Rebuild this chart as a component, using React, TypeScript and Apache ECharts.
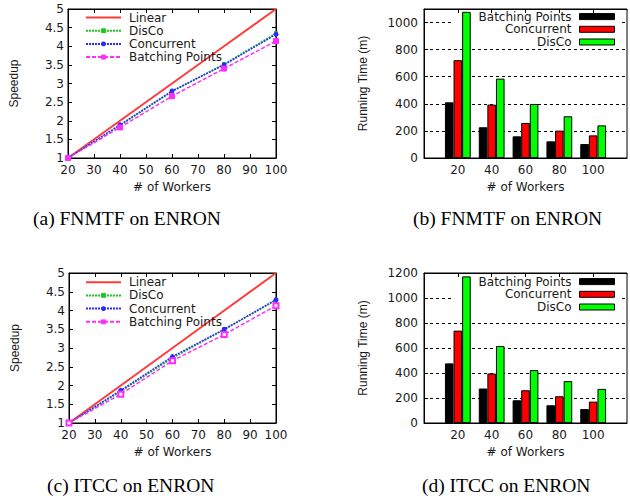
import React, { useEffect, useRef } from 'react';
import * as echarts from 'echarts';

// Shared categories
const workers = [20, 40, 60, 80, 100];
const workerLabels = ['20', '40', '60', '80', '100'];

// (a) FNMTF on ENRON — speedup
const fnmtfLinear = [1, 2, 3, 4, 5];
const fnmtfDisCo = [1, 1.87, 2.78, 3.52, 4.35];
const fnmtfConcurrent = [1, 1.89, 2.8, 3.5, 4.32];
const fnmtfBatching = [1, 1.82, 2.66, 3.4, 4.14];

// (b) FNMTF on ENRON — running time (m)
const fnmtfTimeBatching = [411, 227, 160, 123, 103];
const fnmtfTimeConcurrent = [722, 394, 259, 202, 167];
const fnmtfTimeDisCo = [1079, 586, 399, 308, 241];

// (c) ITCC on ENRON — speedup
const itccLinear = [1, 2, 3, 4, 5];
const itccDisCo = [1, 1.84, 2.73, 3.49, 4.27];
const itccConcurrent = [1, 1.87, 2.77, 3.5, 4.29];
const itccBatching = [1, 1.77, 2.66, 3.36, 4.13];

// (d) ITCC on ENRON — running time (m)
const itccTimeBatching = [477, 276, 182, 142, 112];
const itccTimeConcurrent = [739, 396, 262, 214, 171];
const itccTimeDisCo = [1173, 616, 423, 335, 273];

const captions = ['(a) FNMTF on ENRON', '(b) FNMTF on ENRON', '(c) ITCC on ENRON', '(d) ITCC on ENRON'];

const C_LINEAR = '#ff3b3b';
const C_DISCO = '#1ec81e';
const C_CONC = '#2a2aff';
const C_BATCH = '#ff2cff';

const txt = { fontFamily: 'DejaVu Sans', fontSize: 12, color: '#1a1a1a' };
const nameTxt = { fontFamily: 'Liberation Sans', fontSize: 12, color: '#1a1a1a' };

const pts = (arr: number[]) => workers.map((w, i) => [w, arr[i]]);
const pad = (arr: number[]) => [null, ...arr, null];
const barCats = ['', ...workerLabels, ''];

function lineX(grid: number) {
  return [
    {
      type: 'value', gridIndex: grid, min: 20, max: 100, interval: 10, position: 'bottom',
      axisLine: { lineStyle: { color: '#000', width: 1 } },
      axisTick: { inside: true, length: 4, lineStyle: { color: '#000' } },
      axisLabel: { ...txt, margin: 6 },
      splitLine: { show: false },
      name: '# of Workers', nameLocation: 'middle', nameGap: 23, nameTextStyle: { ...txt },
    },
    {
      type: 'value', gridIndex: grid, min: 20, max: 100, interval: 10, position: 'top',
      axisLine: { lineStyle: { color: '#000', width: 1 } },
      axisTick: { inside: true, length: 4, lineStyle: { color: '#000' } },
      axisLabel: { show: false }, splitLine: { show: false },
    },
  ];
}
function lineY(grid: number) {
  return [
    {
      type: 'value', gridIndex: grid, min: 1, max: 5, interval: 0.5, position: 'left',
      axisLine: { show: true, lineStyle: { color: '#000', width: 1 } },
      axisTick: { show: true, inside: true, length: 4, lineStyle: { color: '#000' } },
      axisLabel: { ...txt, margin: 4 },
      splitLine: { show: false },
      name: 'Speedup', nameLocation: 'middle', nameGap: 48, nameRotate: 90, nameTextStyle: { ...nameTxt, fontSize: 12 },
    },
    {
      type: 'value', gridIndex: grid, min: 1, max: 5, interval: 0.5, position: 'right',
      axisLine: { show: true, lineStyle: { color: '#000', width: 1 } },
      axisTick: { show: true, inside: true, length: 4, lineStyle: { color: '#000' } },
      axisLabel: { show: false }, splitLine: { show: false },
    },
  ];
}
function barX(grid: number) {
  return [
    {
      type: 'category', gridIndex: grid, data: barCats, boundaryGap: false, position: 'bottom',
      axisLine: { lineStyle: { color: '#000', width: 1 } },
      axisTick: { show: false },
      axisLabel: { ...txt, margin: 6, interval: 0 },
      name: '# of Workers', nameLocation: 'middle', nameGap: 23, nameTextStyle: { ...txt },
    },
    {
      type: 'category', gridIndex: grid, data: barCats, boundaryGap: false, position: 'top',
      axisLine: { lineStyle: { color: '#000', width: 1 } },
      axisTick: { inside: true, length: 4, lineStyle: { color: '#000' }, interval: (_i: number, v: string) => v !== '' },
      axisLabel: { show: false },
    },
  ];
}
function barY(grid: number, max: number, showMax: boolean) {
  return {
    type: 'value', gridIndex: grid, min: 0, max, interval: 200, position: 'left',
    axisLine: { show: true, lineStyle: { color: '#000', width: 1 } },
    axisTick: { show: true, inside: true, length: 4, lineStyle: { color: '#000' } },
    axisLabel: { ...txt, margin: 6, showMaxLabel: showMax, formatter: (v: number) => String(v) },
    splitLine: { show: true, lineStyle: { color: '#000', width: 1, type: [3, 3] } },
    name: 'Running Time (m)', nameLocation: 'middle', nameGap: 55, nameRotate: 90, nameTextStyle: { ...nameTxt },
  };
}

function lineSeries(xi: number, yi: number, lin: number[], disco: number[], conc: number[], batch: number[], emptyBatch: boolean) {
  return [
    {
      type: 'line', name: 'Linear', xAxisIndex: xi, yAxisIndex: yi, data: pts(lin),
      symbol: 'none', lineStyle: { color: C_LINEAR, width: 2 }, itemStyle: { color: C_LINEAR },
    },
    {
      type: 'line', name: 'DisCo', xAxisIndex: xi, yAxisIndex: yi, data: pts(disco),
      symbol: 'rect', symbolSize: 4, lineStyle: { color: C_DISCO, width: 1.5, type: [2, 1] }, itemStyle: { color: C_DISCO },
    },
    {
      type: 'line', name: 'Concurrent', xAxisIndex: xi, yAxisIndex: yi, data: pts(conc),
      symbol: 'circle', symbolSize: 5, lineStyle: { color: C_CONC, width: 1.5, type: [2, 1] }, itemStyle: { color: C_CONC },
    },
    {
      type: 'line', name: 'Batching Points', xAxisIndex: xi, yAxisIndex: yi, data: pts(batch),
      symbol: emptyBatch ? 'emptyRect' : 'rect', symbolSize: 5, lineStyle: { color: C_BATCH, width: 1.5, type: [4, 2] },
      itemStyle: { color: C_BATCH, borderColor: C_BATCH },
    },
  ];
}

function barSeries(xi: number, yi: number, b: number[], c: number[], d: number[]) {
  const common = { type: 'bar', xAxisIndex: xi, yAxisIndex: yi, barWidth: 8.6, barGap: '0%' };
  return [
    { ...common, name: 'Batching Points', data: pad(b), itemStyle: { color: '#000', borderColor: '#000', borderWidth: 1 } },
    { ...common, name: 'Concurrent', data: pad(c), itemStyle: { color: '#ff0000', borderColor: '#000', borderWidth: 1 } },
    { ...common, name: 'DisCo', data: pad(d), itemStyle: { color: '#00ff00', borderColor: '#000', borderWidth: 1 } },
  ];
}

function lineLegend(left: number, top: number) {
  return {
    orient: 'vertical', left, top, padding: 0, itemGap: 1.2, itemWidth: 35, itemHeight: 6,
    textStyle: { ...txt, lineHeight: 11, padding: [0, 0, 0, 3] },
    data: [
      { name: 'Linear', itemStyle: { opacity: 0 } },
      { name: 'DisCo' },
      { name: 'Concurrent' },
      { name: 'Batching Points' },
    ],
  };
}

function barLegends(tops: number[]) {
  const items = [
    { name: 'Batching Points', color: '#000' },
    { name: 'Concurrent', color: '#ff0000' },
    { name: 'DisCo', color: '#00ff00' },
  ];
  return items.map((it, i) => ({
    orient: 'vertical', right: 15, top: tops[i], padding: 0, align: 'right', itemWidth: 35, itemHeight: 6,
    textStyle: { ...txt, lineHeight: 11, padding: [0, 3, 0, 0] },
    data: [{ name: it.name, icon: 'rect', itemStyle: { color: it.color, borderColor: '#000', borderWidth: 1, opacity: 1 } }],
  }));
}

const captionStyle = { fontFamily: 'Liberation Serif', fontSize: 19.5, fontWeight: 'normal', color: '#000' };

const option: any = {
  animation: false,
  backgroundColor: '#fff',
  textStyle: { fontFamily: 'DejaVu Sans' },
  title: [
    { text: captions[0], left: 33, top: 208, padding: 0, textStyle: captionStyle },
    { text: captions[1], left: 413, top: 208, padding: 0, textStyle: captionStyle },
    { text: captions[2], left: 47, top: 475, padding: 0, textStyle: captionStyle },
    { text: captions[3], left: 422, top: 475, padding: 0, textStyle: captionStyle },
  ],
  grid: [
    { left: 68, top: 9, width: 208, height: 149, show: true, borderColor: '#000', borderWidth: 1, backgroundColor: 'transparent' },
    { left: 424, top: 9, width: 206, height: 149, show: true, borderColor: '#000', borderWidth: 1, backgroundColor: 'transparent' },
    { left: 69, top: 273, width: 207, height: 150, show: true, borderColor: '#000', borderWidth: 1, backgroundColor: 'transparent' },
    { left: 424, top: 273, width: 206, height: 150, show: true, borderColor: '#000', borderWidth: 1, backgroundColor: 'transparent' },
  ],
  xAxis: [...lineX(0), ...barX(1), ...lineX(2), ...barX(3)],
  yAxis: [...lineY(0), barY(1, 1100, false), ...lineY(2), barY(3, 1200, true)],
  legend: [
    lineLegend(85, 11.5),
    ...barLegends([10.6, 23.3, 36.0]),
    lineLegend(85, 276.2),
    ...barLegends([275.6, 288.3, 301.0]),
  ],
  graphic: [
    { type: 'rect', z: 1, shape: { x: 452, y: 14, width: 170, height: 33 }, style: { fill: '#fff' } },
    { type: 'rect', z: 1, shape: { x: 452, y: 278, width: 170, height: 34 }, style: { fill: '#fff' } },
  ],
  series: [
    ...lineSeries(0, 0, fnmtfLinear, fnmtfDisCo, fnmtfConcurrent, fnmtfBatching, false),
    ...lineSeries(4, 3, itccLinear, itccDisCo, itccConcurrent, itccBatching, true),
    ...barSeries(2, 2, fnmtfTimeBatching, fnmtfTimeConcurrent, fnmtfTimeDisCo),
    ...barSeries(6, 5, itccTimeBatching, itccTimeConcurrent, itccTimeDisCo),
  ],
};

export default function App() {
  const ref = useRef<HTMLDivElement>(null);
  useEffect(() => {
    const chart = echarts.init(ref.current!, null, { renderer: 'svg' });
    chart.setOption(option);
    return () => chart.dispose();
  }, []);
  return <div ref={ref} style={{ position: 'absolute', left: 0, top: 0, width: 630, height: 499, background: '#fff' }} />;
}
